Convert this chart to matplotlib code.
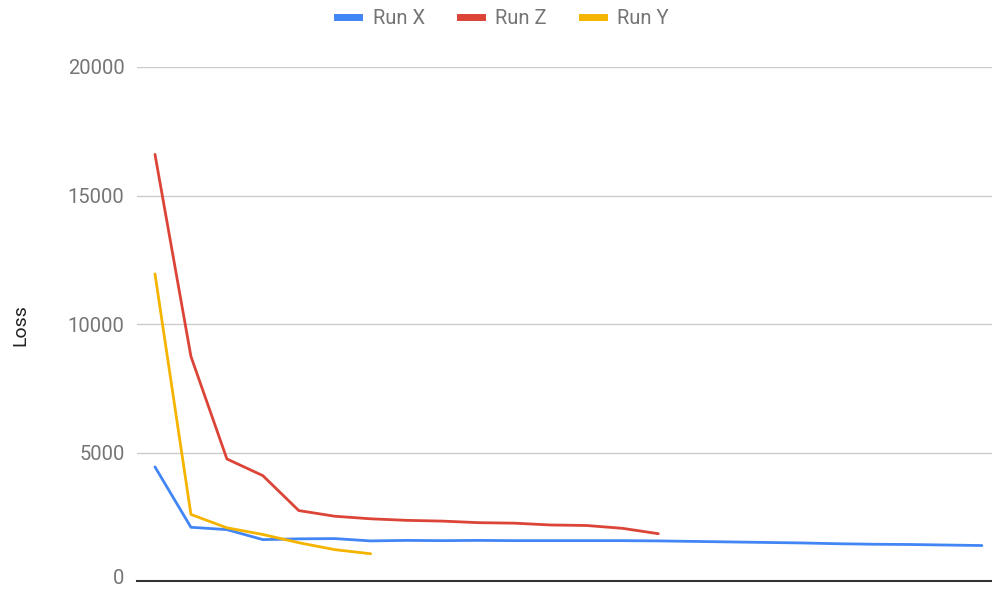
import matplotlib
matplotlib.use("Agg")
import matplotlib.pyplot as plt
from matplotlib.lines import Line2D
from matplotlib.transforms import ScaledTranslation

# Loss per step for each run
run_x = [4440, 2090, 2000, 1610, 1640, 1650, 1560, 1580, 1570, 1580, 1570, 1570,
         1570, 1570, 1560, 1540, 1520, 1500, 1480, 1450, 1430, 1420, 1400, 1380]
run_z = [16600, 8740, 4750, 4100, 2740, 2520, 2420, 2360, 2330, 2270, 2250, 2180,
         2160, 2050, 1840]
run_y = [11950, 2590, 2070, 1810, 1490, 1220, 1060]

series = [("Run X", run_x, "#4285F4"),
          ("Run Z", run_z, "#DB4437"),
          ("Run Y", run_y, "#F4B400")]
y_ticks = [0, 5000, 10000, 15000, 20000]

plt.rcParams["font.family"] = ["Roboto", "DejaVu Sans"]

fig = plt.figure(figsize=(9.92, 5.89), dpi=100)
ax = fig.add_axes([137 / 992, 1 - 581 / 589, 1 - 137 / 992, (581 - 67) / 589])

for name, vals, color in series:
    ax.plot(range(len(vals)), vals, color=color, lw=2.0,
            solid_joinstyle="round", solid_capstyle="round", zorder=3)

ax.set_xlim(-0.5, 23.28)
ax.set_ylim(0, 20000)
ax.set_yticks(y_ticks)
ax.set_yticklabels([str(v) for v in y_ticks])
ax.set_xticks([])
ax.tick_params(axis="y", length=0, pad=9, labelsize=14.5, labelcolor="#757575")
ax.grid(axis="y", color="#cccccc", lw=1.0, zorder=0)
for s in ["top", "right", "left"]:
    ax.spines[s].set_visible(False)
ax.spines["bottom"].set_color("#333333")
ax.spines["bottom"].set_linewidth(1.5)
ax.spines["bottom"].set_zorder(4)

# keep the "0" label clear of the lower figure edge
zero_label = ax.get_yticklabels()[0]
zero_label.set_transform(zero_label.get_transform()
                         + ScaledTranslation(0, 3 / 72, fig.dpi_scale_trans))

fig.text(20 / 992, 1 - 325 / 589, "Loss", rotation=90, ha="center", va="center",
         fontsize=14, color="#222222")

handles = [Line2D([], [], color=c, lw=5) for _, _, c in series]
fig.legend(handles, [n for n, _, _ in series], loc="center",
           bbox_to_anchor=(503 / 992, 1 - 19 / 589), ncol=3, frameon=False,
           handlelength=1.1, handletextpad=0.65, columnspacing=1.75,
           fontsize=14.5, labelcolor="#757575")

fig.savefig("out.png", dpi=100)
